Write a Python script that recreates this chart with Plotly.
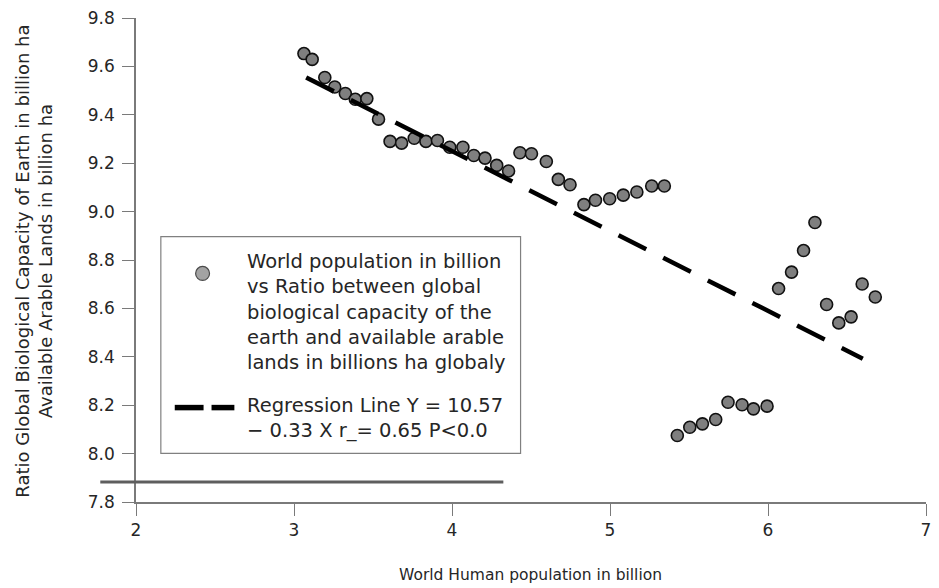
import plotly.graph_objects as go

# World population (billion) vs ratio of global biocapacity to arable land
population = [
    3.063, 3.115, 3.195, 3.258, 3.325, 3.388, 3.461, 3.535, 3.608, 3.681,
    3.761, 3.835, 3.908, 3.986, 4.069, 4.138, 4.209, 4.283, 4.358, 4.430,
    4.503, 4.597, 4.673, 4.747, 4.835, 4.908, 4.998, 5.084, 5.170, 5.264,
    5.344, 5.426, 5.505, 5.585, 5.669, 5.747, 5.836, 5.908, 5.994, 6.067,
    6.149, 6.225, 6.297, 6.371, 6.448, 6.526, 6.596, 6.679,
]
ratio = [
    9.653, 9.629, 9.554, 9.515, 9.488, 9.464, 9.467, 9.382, 9.290, 9.283,
    9.303, 9.290, 9.294, 9.266, 9.266, 9.232, 9.221, 9.191, 9.168, 9.243,
    9.239, 9.207, 9.133, 9.111, 9.029, 9.047, 9.053, 9.068, 9.081, 9.106,
    9.106, 8.075, 8.109, 8.123, 8.141, 8.212, 8.202, 8.185, 8.196, 8.682,
    8.750, 8.839, 8.955, 8.616, 8.540, 8.565, 8.701, 8.647,
]

# Regression Y = 10.57 - 0.33 X over the fitted span
reg_intercept = 10.57
reg_slope = -0.33
reg_x = [3.077, 6.60]
reg_y = [reg_intercept + reg_slope * x for x in reg_x]

x_range = [2, 7]
y_range = [7.8, 9.8]
x_ticks = [2, 3, 4, 5, 6, 7]
y_ticks = [7.8, 8.0, 8.2, 8.4, 8.6, 8.8, 9.0, 9.2, 9.4, 9.6, 9.8]

# stray baseline rule below the 8.0 level
rule_y = 7.883
rule_x = [1.774, 4.325]

legend_points_text = ("World population in billion<br>vs Ratio between global<br>"
                      "biological capacity of the<br>earth and available arable<br>"
                      "lands in billions ha globaly")
legend_line_text = "Regression Line Y = 10.57<br>\u2212 0.33 X r_= 0.65 P<0.0"
y_title = ("Ratio Global Biological Capacity of Earth in billion ha<br>"
           "Available Arable Lands in billion ha")
x_title = "World Human population in billion"

FONT = "DejaVu Sans"
TXT = "#262626"
AX = "#7a7a7a"

W, H = 939, 588
ML, MR, MT, MB = 136, 8, 15, 86
PW, PH = W - ML - MR, H - MT - MB


def px_x(px):
    return (px - ML) / PW


def px_y(py):
    return (H - MB - py) / PH


def frac(v, rng):
    return (v - rng[0]) / (rng[1] - rng[0])


fig = go.Figure()

fig.add_trace(go.Scatter(
    x=population, y=ratio, mode="markers",
    marker=dict(size=12, color="#7f7f7f", line=dict(color="#111111", width=1.6)),
    showlegend=False, cliponaxis=False,
))
fig.add_trace(go.Scatter(
    x=reg_x, y=reg_y, mode="lines",
    line=dict(color="#000000", width=4.5, dash="31px,19px"),
    showlegend=False,
))

shapes = [
    # baseline rule
    dict(type="line", xref="paper", yref="paper",
         x0=frac(rule_x[0], x_range), x1=frac(rule_x[1], x_range),
         y0=frac(rule_y, y_range), y1=frac(rule_y, y_range),
         line=dict(color="#5e5e5e", width=3)),
    # legend frame
    dict(type="rect", xref="paper", yref="paper",
         x0=px_x(161), x1=px_x(523), y0=px_y(453), y1=px_y(235),
         line=dict(color="#808080", width=1.2), fillcolor="white", layer="below"),
    # legend marker
    dict(type="circle", xref="paper", yref="paper",
         x0=px_x(196), x1=px_x(210), y0=px_y(279), y1=px_y(265),
         line=dict(color="#4a4a4a", width=1.2), fillcolor="#a3a3a3"),
    # legend dashes
    dict(type="line", xref="paper", yref="paper",
         x0=px_x(175), x1=px_x(204), y0=px_y(407), y1=px_y(407),
         line=dict(color="#000000", width=5.5)),
    dict(type="line", xref="paper", yref="paper",
         x0=px_x(212), x1=px_x(235), y0=px_y(407), y1=px_y(407),
         line=dict(color="#000000", width=5.5)),
]

annotations = [
    dict(text=legend_points_text, xref="paper", yref="paper",
         x=px_x(246), y=px_y(311), xanchor="left", yanchor="middle",
         align="left", showarrow=False, font=dict(family=FONT, size=19.5, color=TXT)),
    dict(text=legend_line_text, xref="paper", yref="paper",
         x=px_x(246), y=px_y(417), xanchor="left", yanchor="middle",
         align="left", showarrow=False, font=dict(family=FONT, size=19.5, color=TXT)),
    dict(text=y_title, xref="paper", yref="paper", x=px_x(33.5), y=px_y(260),
         xanchor="center", yanchor="middle", textangle=-90, showarrow=False,
         font=dict(family=FONT, size=18, color=TXT)),
    dict(text=x_title, xref="paper", yref="paper", x=px_x(533), y=px_y(575),
         xanchor="center", yanchor="middle", showarrow=False,
         font=dict(family=FONT, size=15.5, color=TXT)),
]

axis_common = dict(
    showgrid=False, zeroline=False, showline=True, linecolor=AX,
    ticks="outside", tickwidth=1.2, tickcolor=AX,
    tickfont=dict(family=FONT, size=17, color=TXT),
)

fig.update_layout(
    width=W, height=H,
    margin=dict(l=ML, r=MR, t=MT, b=MB, pad=0),
    paper_bgcolor="white", plot_bgcolor="white",
    font=dict(family=FONT, size=17, color=TXT),
    shapes=shapes, annotations=annotations,
    xaxis=dict(range=x_range, tickvals=x_ticks, ticktext=[str(v) for v in x_ticks],
               linewidth=2, ticklen=12, **axis_common),
    yaxis=dict(range=y_range, tickvals=y_ticks, ticktext=[f"{v:.1f}" for v in y_ticks],
               linewidth=1.5, ticklen=12, ticklabelstandoff=4, **axis_common),
)

fig.write_html("out.html")
